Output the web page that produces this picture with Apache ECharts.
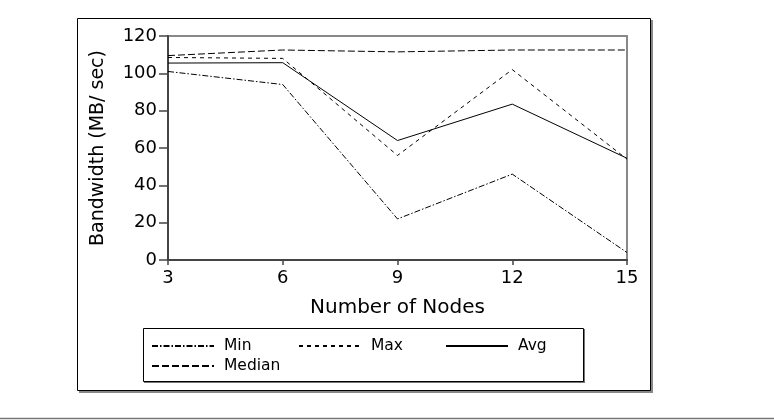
<!DOCTYPE html>
<html>
<head>
<meta charset="utf-8">
<script src="https://cdn.jsdelivr.net/npm/echarts@6/dist/echarts.min.js"></script>
<style>
  html, body { margin: 0; padding: 0; background: #fff; }
  #chart { width: 774px; height: 420px; }
</style>
</head>
<body>
<div id="chart"></div>
<script>
// values
const nodes = [3, 6, 9, 12, 15];
const minBw = [101, 94, 22, 46, 4];
const maxBw = [108.5, 108, 56, 102, 54];
const avgBw = [105.5, 105.7, 64, 83.5, 54.5];
const medianBw = [109.5, 112.5, 111.5, 112.5, 112.5];

const font = 'DejaVu Sans';

function pairs(ys) {
  return nodes.map((x, i) => [x, ys[i]]);
}

function lineSeries(name, ys, type) {
  return {
    name: name,
    type: 'line',
    data: pairs(ys),
    symbol: 'none',
    silent: true,
    animation: false,
    itemStyle: { color: '#000' },
    lineStyle: { color: '#000', width: 1, type: type }
  };
}

function legendAt(name, left, top) {
  return {
    data: [name],
    left: left,
    top: top,
    itemWidth: 62,
    itemHeight: 12,
    itemGap: 0,
    padding: 0,
    selectedMode: false,
    itemStyle: { color: 'transparent', borderWidth: 0 },
    textStyle: { fontFamily: font, fontSize: 15.5, color: '#000', padding: [0, 0, 0, 5] }
  };
}

const chart = echarts.init(document.getElementById('chart'));
chart.setOption({
  backgroundColor: '#fff',
  animation: false,
  graphic: [
    // outer frame with shadow
    { type: 'rect', z: -10, shape: { x: 79, y: 20, width: 574, height: 373 }, style: { fill: '#888' } },
    { type: 'rect', z: -9, shape: { x: 77.5, y: 18.5, width: 573, height: 372 }, style: { fill: '#fff', stroke: '#000', lineWidth: 1 } },
    // legend box with shadow
    { type: 'rect', z: -8, shape: { x: 144, y: 329, width: 441, height: 54 }, style: { fill: '#777' } },
    { type: 'rect', z: -7, shape: { x: 143.5, y: 328.5, width: 440, height: 53 }, style: { fill: '#fff', stroke: '#000', lineWidth: 1 } },
    // bottom rule
    { type: 'line', shape: { x1: 0, y1: 418.5, x2: 774, y2: 418.5 }, style: { stroke: '#777', lineWidth: 1.5 } }
  ],
  grid: {
    left: 168, right: 147, top: 36, bottom: 160,
    show: true, borderColor: '#888', borderWidth: 2, backgroundColor: 'transparent'
  },
  legend: [
    legendAt('Min', 151, 338),
    legendAt('Max', 298, 338),
    legendAt('Avg', 445, 338),
    legendAt('Median', 151, 358)
  ],
  xAxis: {
    type: 'value',
    min: 3, max: 15, interval: 3,
    name: 'Number of Nodes',
    nameLocation: 'middle',
    nameGap: 38,
    nameTextStyle: { fontFamily: font, fontSize: 20, color: '#000' },
    axisLine: { lineStyle: { color: '#444', width: 2 } },
    axisTick: { show: true, length: 5, lineStyle: { color: '#444', width: 1.5 } },
    axisLabel: { fontFamily: font, fontSize: 18, color: '#000', margin: 9 },
    splitLine: { show: false }
  },
  yAxis: {
    type: 'value',
    min: 0, max: 120, interval: 20,
    name: 'Bandwidth (MB/ sec)',
    nameLocation: 'middle',
    nameGap: 60,
    nameTextStyle: { fontFamily: font, fontSize: 19, color: '#000' },
    axisLine: { show: true, lineStyle: { color: '#444', width: 2 } },
    axisTick: { show: true, length: 9, lineStyle: { color: '#444', width: 1.5 } },
    axisLabel: { fontFamily: font, fontSize: 18, color: '#000', margin: 11 },
    splitLine: { show: false }
  },
  series: [
    lineSeries('Min', minBw, [6, 2, 1.5, 2]),
    lineSeries('Max', maxBw, [4, 4]),
    lineSeries('Avg', avgBw, 'solid'),
    lineSeries('Median', medianBw, [7, 3])
  ]
});
</script>
</body>
</html>
